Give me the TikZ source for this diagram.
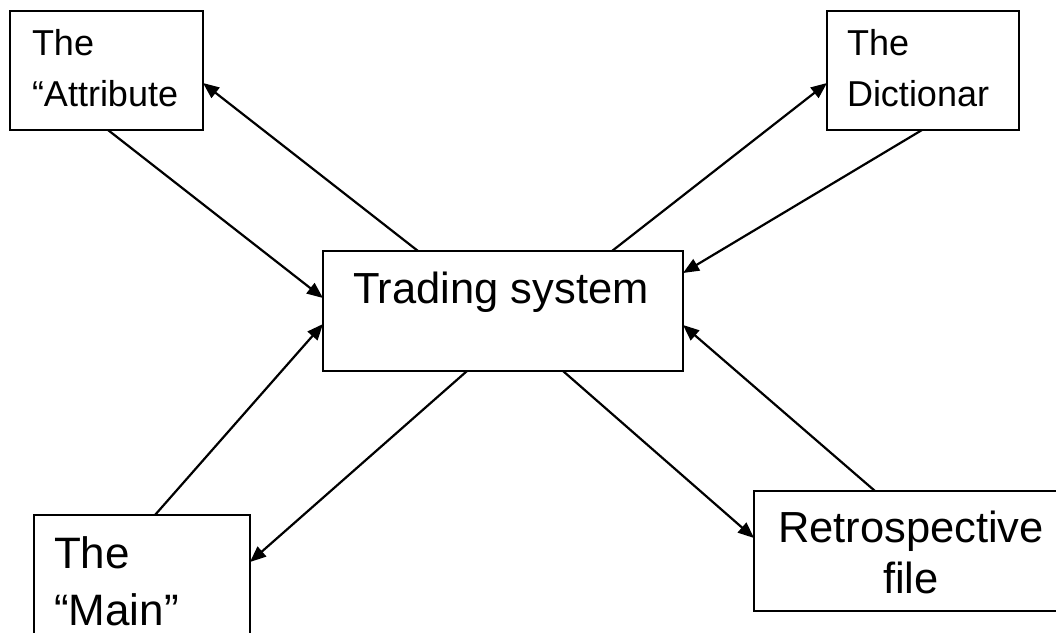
\documentclass[tikz,border=0pt]{standalone}
\usepackage{fontspec}
\setmainfont{Liberation Sans}
\usetikzlibrary{arrows.meta,calc}
\tikzset{
  box/.style={draw=black, line width=2.2pt, rectangle, inner sep=0pt, outer sep=0pt, fill=none},
  conn/.style={draw=black, line width=2.2pt, -{Triangle[length=16pt,width=13pt]}},
  txts/.style={anchor=base west, inner sep=0pt, outer sep=0pt, font=\fontsize{36}{36}\selectfont},
  txtl/.style={anchor=base west, inner sep=0pt, outer sep=0pt, font=\fontsize{43.5}{43.5}\selectfont},
}
\begin{document}
\begin{tikzpicture}[x=1pt, y=-1pt]
\useasboundingbox (0,0) rectangle (1056,632);
\clip (0,0) rectangle (1056,632);
% boxes
\node[box, minimum width=193pt, minimum height=119pt] (attr) at (106.5,70.5) {};
\node[box, minimum width=192pt, minimum height=119pt] (dict) at (923,70.5) {};
\node[box, minimum width=360pt, minimum height=120pt] (ts) at (503,311) {};
\node[box, minimum width=216pt, minimum height=126pt] (main) at (142,578) {};
\node[box, minimum width=308pt, minimum height=120pt] (retro) at (908,551) {};
% texts
\node[txts] (attr1) at (32,55) {The};
\node[txts] (attr2) at (32,106) {“Attribute};
\node[txts] (dict1) at (847,55) {The};
\node[txts] (dict2) at (847,106) {Dictionar};
\node[txtl] (ts1) at (353,303) {Trading system};
\node[txtl, font=\fontsize{44}{44}\selectfont] (main1) at (54,568) {The};
\node[txtl, font=\fontsize{44}{44}\selectfont] (main2) at (54,625) {“Main”};
\node[txtl] (retro1) at (778,542) {Retrospective};
\node[txtl] (retro2) at (883,593) {file};
% connectors
\draw[conn] ($(ts.north west)+(95,0)$) -- ($(attr.north east)+(0,72)$);
\draw[conn] ($(attr.south west)+(98,0)$) -- ($(ts.north west)+(0,47)$);
\draw[conn] ($(ts.north west)+(289,0)$) -- ($(dict.north west)+(0,72)$);
\draw[conn] ($(dict.south west)+(95,0)$) -- ($(ts.north east)+(0,22)$);
\draw[conn] ($(main.north west)+(121,0)$) -- ($(ts.north west)+(0,73)$);
\draw[conn] ($(ts.south west)+(144,0)$) -- ($(main.north east)+(0,47)$);
\draw[conn] ($(ts.south west)+(240,0)$) -- ($(retro.north west)+(0,47)$);
\draw[conn] ($(retro.north west)+(121,0)$) -- ($(ts.north east)+(0,74)$);
\end{tikzpicture}
\end{document}
